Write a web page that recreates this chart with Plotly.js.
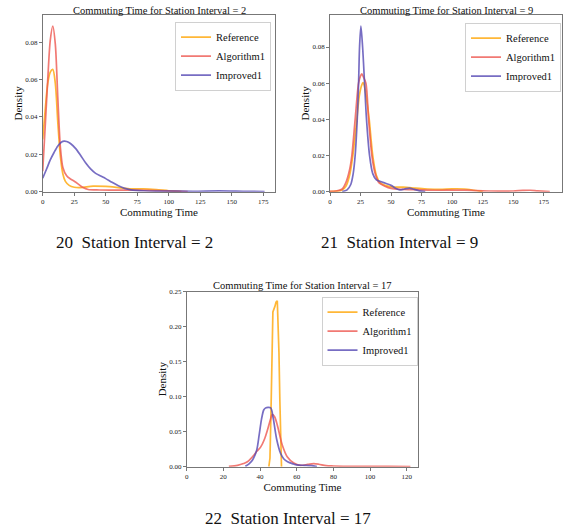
<!DOCTYPE html>
<html>
<head>
<meta charset="utf-8">
<script src="https://cdn.plot.ly/plotly-3.0.1.min.js"></script>
<style>
html,body{margin:0;padding:0;background:#fff;}
#chart{width:565px;height:529px;}
</style>
</head>
<body>
<div id="chart"></div>
<script>
// ---- Panel 1: Station Interval = 2 ----
const p1RefX = [0, 2, 4, 6, 8, 10, 12, 14, 16, 18, 21, 25, 30, 40, 50, 60, 70, 80, 90, 100, 110];
const p1RefY = [0.028, 0.044, 0.058, 0.064, 0.0655, 0.058, 0.037, 0.019, 0.0095, 0.0055, 0.0034, 0.0024, 0.0022, 0.003, 0.0028, 0.0022, 0.0015, 0.0015, 0.0011, 0.0005, 0.0001];
const p1AlgX = [0, 2, 4, 6, 8, 10, 12, 14, 16, 19, 22, 25, 28, 32, 36, 45, 60, 75, 90, 105, 115];
const p1AlgY = [0.011, 0.035, 0.060, 0.081, 0.0887, 0.079, 0.050, 0.024, 0.013, 0.0085, 0.0068, 0.0056, 0.0042, 0.0022, 0.0012, 0.0009, 0.0008, 0.0008, 0.0006, 0.0003, 0.0001];
const p1ImpX = [0, 3, 6, 9, 12, 15, 17, 19, 22, 26, 30, 34, 38, 42, 46, 50, 55, 60, 65, 70, 80, 90, 100, 120, 140, 160, 176];
const p1ImpY = [0.0072, 0.012, 0.017, 0.021, 0.0245, 0.0266, 0.0271, 0.0269, 0.0258, 0.0232, 0.0195, 0.0155, 0.0122, 0.0098, 0.0084, 0.0070, 0.0050, 0.0032, 0.0018, 0.0010, 0.0005, 0.0003, 0.0003, 0.0002, 0.0004, 0.0002, 0.0001];

// ---- Panel 2: Station Interval = 9 ----
const p2RefX = [0, 5, 10, 13, 16, 18.7, 22, 24, 26, 27, 28, 30, 32.1, 35, 38, 41, 45, 50, 60, 70, 80, 90, 100, 110, 118, 125];
const p2RefY = [0.0001, 0.0003, 0.001, 0.003, 0.009, 0.020, 0.040, 0.053, 0.059, 0.0603, 0.059, 0.051, 0.040, 0.020, 0.009, 0.005, 0.0035, 0.0027, 0.0025, 0.002, 0.0015, 0.0013, 0.0016, 0.0015, 0.0008, 0.0001];
const p2AlgX = [0, 5, 10, 13, 16, 17.9, 20.6, 23.4, 25, 26, 27, 29.4, 31.6, 34.3, 37, 40, 45, 50, 60, 70, 80, 90, 100, 110, 120, 130, 140, 150, 158, 164, 170, 180];
const p2AlgY = [0.0002, 0.0004, 0.0015, 0.005, 0.012, 0.020, 0.040, 0.060, 0.064, 0.0651, 0.064, 0.060, 0.040, 0.020, 0.010, 0.005, 0.003, 0.0018, 0.0013, 0.0011, 0.0009, 0.0008, 0.0009, 0.0009, 0.0006, 0.0004, 0.0003, 0.0004, 0.0007, 0.0008, 0.0005, 0.0001];
const p2ImpX = [10, 14, 17, 19, 20.6, 22.3, 23.4, 24.2, 25.3, 26.7, 28.3, 29.9, 32.4, 35, 38, 42, 46, 50, 54, 57, 61, 65, 69, 73, 78];
const p2ImpY = [0.0001, 0.001, 0.004, 0.010, 0.020, 0.040, 0.060, 0.080, 0.0916, 0.080, 0.060, 0.040, 0.020, 0.010, 0.0065, 0.0055, 0.0045, 0.0035, 0.0018, 0.0010, 0.0015, 0.0020, 0.0013, 0.0005, 0.0001];

// ---- Panel 3: Station Interval = 17 ----
const p3RefX = [44.8, 45.4, 45.9, 46.4, 47, 48.1, 48.7, 49.4, 49.8, 50.3, 50.8, 51.2, 51.7];
const p3RefY = [0, 0.012, 0.07, 0.16, 0.221, 0.229, 0.235, 0.237, 0.21, 0.164, 0.095, 0.045, 0];
const p3AlgX = [23, 27.7, 31, 33.1, 36.7, 38.2, 40.3, 42.5, 44, 45.5, 46.7, 48, 49.4, 51, 52.1, 54.8, 58.4, 62, 66, 69.3, 72, 76, 80, 90, 100, 110, 122];
const p3AlgY = [0.0005, 0.002, 0.0045, 0.007, 0.0167, 0.022, 0.028, 0.040, 0.052, 0.066, 0.0748, 0.071, 0.0596, 0.042, 0.031, 0.0143, 0.0053, 0.002, 0.0032, 0.0043, 0.0035, 0.0015, 0.001, 0.0005, 0.0006, 0.0004, 0.0001];
const p3ImpX = [32, 34, 36, 38.2, 39.5, 40.8, 42, 43, 45.8, 47.2, 49, 51.2, 53, 55, 58, 60, 64, 68, 71];
const p3ImpY = [0.0005, 0.004, 0.010, 0.024, 0.045, 0.068, 0.081, 0.084, 0.084, 0.069, 0.040, 0.019, 0.011, 0.007, 0.004, 0.0025, 0.002, 0.0015, 0.0001];

const seriesNames = ["Reference", "Algorithm1", "Improved1"];
const panelTitles = ["Commuting Time for Station Interval = 2", "Commuting Time for Station Interval = 9", "Commuting Time for Station Interval = 17"];
const captions = ["20\u2002Station Interval = 2", "21\u2002Station Interval = 9", "22\u2002Station Interval = 17"];
const xTitle = "Commuting Time";
const yTitle = "Density";

const colors = ["rgba(255,170,20,0.85)", "rgba(238,88,80,0.8)", "rgba(85,72,180,0.8)"];
const FONT = '"Liberation Serif", "Times New Roman", serif';

const panels = [
  {xs: [p1RefX, p1AlgX, p1ImpX], ys: [p1RefY, p1AlgY, p1ImpY], xa: "x", ya: "y", lg: "legend"},
  {xs: [p2RefX, p2AlgX, p2ImpX], ys: [p2RefY, p2AlgY, p2ImpY], xa: "x2", ya: "y2", lg: "legend2"},
  {xs: [p3RefX, p3AlgX, p3ImpX], ys: [p3RefY, p3AlgY, p3ImpY], xa: "x3", ya: "y3", lg: "legend3"}
];

const traces = [];
panels.forEach((p, pi) => {
  for (let s = 0; s < 3; s++) {
    traces.push({
      x: p.xs[s], y: p.ys[s], xaxis: p.xa, yaxis: p.ya,
      type: "scatter", mode: "lines", name: seriesNames[s],
      legend: p.lg,
      line: {color: colors[s], width: 1.7, shape: (pi === 2 && s === 0) ? "linear" : "spline", smoothing: 0.8},
      hoverinfo: "skip"
    });
  }
});

function xax(anchor, domain, range, dtick) {
  return {
    anchor: anchor,
    domain: domain, range: range, dtick: dtick, tick0: 0,
    showgrid: false, zeroline: false, showline: true, mirror: true,
    linecolor: "#555", linewidth: 0.8,
    ticks: "outside", ticklen: 3, tickwidth: 0.8, tickcolor: "#555",
    tickfont: {family: FONT, size: 7, color: "#222"},
    title: {text: xTitle, font: {family: FONT, size: 11, color: "#111"}, standoff: 0},
    fixedrange: true
  };
}
function yax(anchor, domain, range, dtick, fmt) {
  return {
    anchor: anchor,
    domain: domain, range: range, dtick: dtick, tick0: 0, tickformat: fmt,
    showgrid: false, zeroline: false, showline: true, mirror: true,
    linecolor: "#555", linewidth: 0.8,
    ticks: "outside", ticklen: 3, tickwidth: 0.8, tickcolor: "#555",
    tickfont: {family: FONT, size: 7, color: "#222"},
    title: {text: yTitle, font: {family: FONT, size: 11, color: "#111"}, standoff: 0},
    fixedrange: true
  };
}
function leg(x, y) {
  return {
    x: x, y: y, xanchor: "right", yanchor: "top", xref: "paper", yref: "paper",
    bgcolor: "rgba(255,255,255,0.9)", bordercolor: "#d0d0d0", borderwidth: 1,
    font: {family: FONT, size: 10.5, color: "#111"}, itemwidth: 30, tracegroupgap: 0
  };
}

const ann = [];
const titlePos = [[159 / 565, 1 - 10.5 / 529], [446 / 565, 1 - 10.5 / 529], [302.5 / 565, 1 - 285.5 / 529]];
panelTitles.forEach((t, i) => ann.push({
  text: t, x: titlePos[i][0], y: titlePos[i][1], xref: "paper", yref: "paper",
  xanchor: "center", yanchor: "middle", showarrow: false,
  font: {family: FONT, size: 10.5, color: "#111"}
}));
const capPos = [[134 / 565, 1 - 242.7 / 529], [399 / 565, 1 - 242.7 / 529], [287.5 / 565, 1 - 518 / 529]];
captions.forEach((t, i) => ann.push({
  text: t, x: capPos[i][0], y: capPos[i][1], xref: "paper", yref: "paper",
  xanchor: "center", yanchor: "middle", showarrow: false,
  font: {family: FONT, size: 17, color: "#111"}
}));

const layout = {
  width: 565, height: 529, margin: {l: 0, r: 0, t: 0, b: 0},
  paper_bgcolor: "#fff", plot_bgcolor: "#fff",
  showlegend: true,
  font: {family: FONT},
  xaxis: xax("y", [42.7 / 565, 275.3 / 565], [0, 184.5], 25),
  yaxis: yax("x", [1 - 191.7 / 529, 1 - 15 / 529], [0, 0.0946], 0.02, ".2f"),
  xaxis2: xax("y2", [330 / 565, 562 / 565], [0, 190], 25),
  yaxis2: yax("x2", [1 - 191.7 / 529, 1 - 15 / 529], [0, 0.0977], 0.02, ".2f"),
  xaxis3: xax("y3", [186.7 / 565, 418.3 / 565], [0, 126.3], 20),
  yaxis3: yax("x3", [1 - 466.7 / 529, 1 - 291.7 / 529], [0, 0.25], 0.05, ".2f"),
  legend: leg(271 / 565, 1 - 21.7 / 529),
  legend2: leg(561 / 565, 1 - 22.7 / 529),
  legend3: leg(417.5 / 565, 1 - 296.7 / 529),
  annotations: ann
};

Plotly.newPlot("chart", traces, layout, {staticPlot: true, displayModeBar: false});
</script>
</body>
</html>
